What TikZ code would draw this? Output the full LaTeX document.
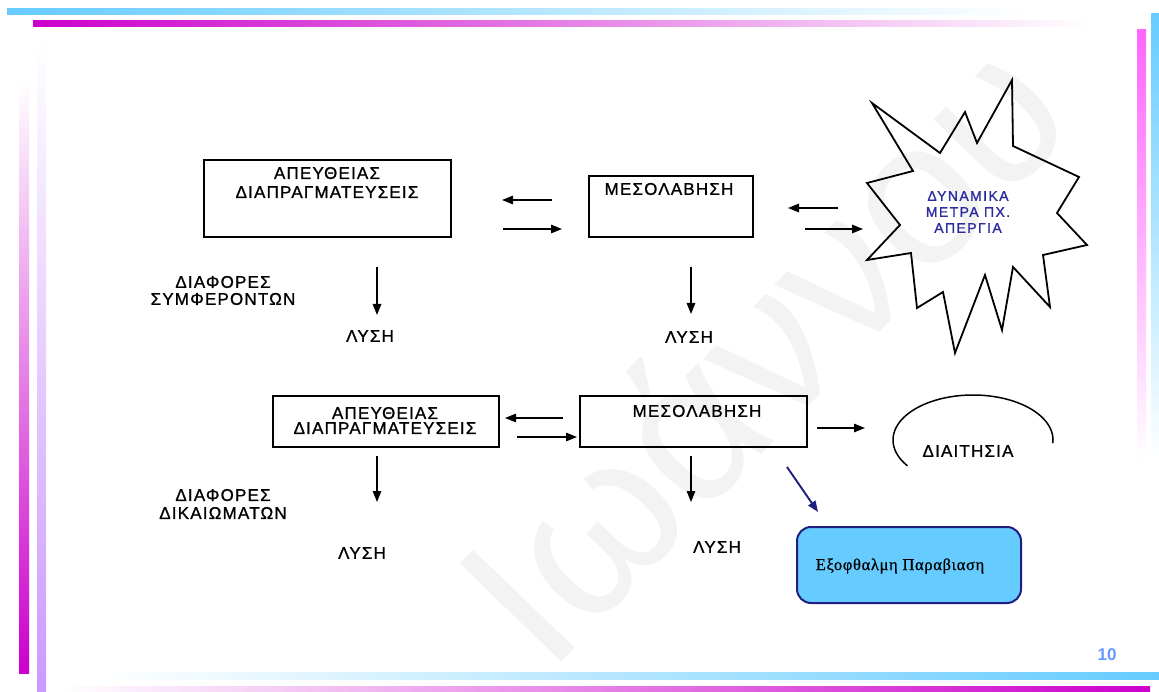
\documentclass[tikz,border=0pt]{standalone}
\usepackage{fontspec}
\setmainfont{Liberation Sans}
\newfontfamily\ar[LetterSpace=7,FakeBold=1]{Liberation Sans}
\newfontfamily\arst[LetterSpace=10,FakeBold=1]{Liberation Sans}
\newfontfamily\tm[LetterSpace=4,FakeBold=0.6]{Liberation Serif}
\newfontfamily\wm{Liberation Sans}
\usetikzlibrary{arrows.meta}
\definecolor{cyb}{HTML}{66CCFF}
\definecolor{mgb}{HTML}{CC00CC}
\definecolor{pkb}{HTML}{FF66FF}
\definecolor{lvb}{HTML}{CC99FF}
\definecolor{navyc}{HTML}{1F1F80}
\definecolor{stt}{HTML}{2B2B9E}
\definecolor{exf}{HTML}{66CCFF}
\definecolor{numc}{HTML}{6699FF}
\definecolor{wmc}{HTML}{F3F3F3}
\tikzset{
  bx/.style={draw, line width=1.6pt, inner sep=0pt},
  txt/.style={inner sep=0pt, align=center, font=\ar\fontsize{17}{19}\selectfont},
  arr/.style={line width=1.4pt, -{Triangle[length=11pt,width=8.5pt]}}
}
\begin{document}
\begin{tikzpicture}[x=1pt,y=-1pt]
\useasboundingbox (0,0) rectangle (1159,692);
\fill[white] (0,0) rectangle (1159,692);
% watermark
\node[rotate=46, anchor=base west, inner sep=0pt, text=wmc, font=\wm\fontsize{205}{220}\selectfont] (wmk) at (548,676) {Ιωάννου};
% decorative bars
\shade[left color=cyb, right color=white] (7,9) rectangle (1030,15);
\shade[left color=mgb, right color=white] (33,21) rectangle (1090,27);
\shade[top color=pkb, bottom color=white] (1137,30) rectangle (1146,460);
\shade[top color=cyb, bottom color=white] (1151,14) rectangle (1159,460);
\shade[top color=white, bottom color=mgb] (19,80) rectangle (29,673);
\shade[top color=white, bottom color=lvb] (37,40) rectangle (46,692);
\shade[left color=white, right color=cyb] (100,672) rectangle (1159,679);
\shade[left color=white, right color=mgb] (60,686) rectangle (1150,692);

% top row
\node[bx, minimum width=247pt, minimum height=77pt] (a1) at (327.5,198.5) {};
\node[txt] (a1t) at (327,182.5) {ΑΠΕΥΘΕΙΑΣ\\ΔΙΑΠΡΑΓΜΑΤΕΥΣΕΙΣ};
\node[bx, minimum width=164pt, minimum height=61pt] (m1) at (671,206.5) {};
\node[txt] (m1t) at (669,189) {ΜΕΣΟΛΑΒΗΣΗ};
\draw[line width=1.8pt, line join=miter] (872,103) -- (940,153) -- (965,112) -- (977,143) -- (1012,80) -- (1013,146) -- (1079,177) -- (1057,213) -- (1087,245) -- (1043,255) -- (1050,307) -- (1013,267) -- (1002,330) -- (985,275) -- (955,353) -- (943,292) -- (917,308) -- (911,253) -- (867,260) -- (900,225) -- (867,183) -- (913,171) -- cycle;
\node[txt, text=stt, font=\arst\fontsize{14}{16}\selectfont] (st) at (968,212) {ΔΥΝΑΜΙΚΑ\\ΜΕΤΡΑ ΠΧ.\\ΑΠΕΡΓΙΑ};
\node[txt, font=\ar\fontsize{17}{17}\selectfont] (dfs) at (223,290.5) {ΔΙΑΦΟΡΕΣ\\ΣΥΜΦΕΡΟΝΤΩΝ};
\node[txt] (l1) at (370,336) {ΛΥΣΗ};
\node[txt] (l2) at (689,337) {ΛΥΣΗ};

\coordinate (c1s) at (552,200); \coordinate (c1e) at (502,200);
\coordinate (c2s) at (503,229); \coordinate (c2e) at (562,229);
\coordinate (c3s) at (838,208); \coordinate (c3e) at (788,208);
\coordinate (c4s) at (805,229); \coordinate (c4e) at (863,229);
\coordinate (d1s) at (377,267); \coordinate (d1e) at (377,315);
\coordinate (d2s) at (691,267); \coordinate (d2e) at (691,314);
\draw[arr] (c1s) -- (c1e);
\draw[arr] (c2s) -- (c2e);
\draw[arr] (c3s) -- (c3e);
\draw[arr] (c4s) -- (c4e);
\draw[arr] (d1s) -- (d1e);
\draw[arr] (d2s) -- (d2e);

% bottom row
\node[bx, minimum width=226pt, minimum height=51pt] (a2) at (386,421.5) {};
\node[txt, font=\ar\fontsize{17}{15}\selectfont] (a2t) at (385,420.5) {ΑΠΕΥΘΕΙΑΣ\\ΔΙΑΠΡΑΓΜΑΤΕΥΣΕΙΣ};
\node[bx, minimum width=227pt, minimum height=51pt] (m2) at (693.5,421.5) {};
\node[txt] (m2t) at (697,411) {ΜΕΣΟΛΑΒΗΣΗ};
\draw[line width=1.5pt] plot[domain=4:-215, samples=90] ({973+80*cos(\x)}, {440+45*sin(\x)});
\node[txt] (di) at (968,451) {ΔΙΑΙΤΗΣΙΑ};
\node[txt, font=\ar\fontsize{17}{18}\selectfont] (dfd) at (223,504) {ΔΙΑΦΟΡΕΣ\\ΔΙΚΑΙΩΜΑΤΩΝ};
\node[txt] (l3) at (362,553) {ΛΥΣΗ};
\node[txt] (l4) at (717,547) {ΛΥΣΗ};
\node[draw=navyc, fill=exf, line width=2pt, rounded corners=14pt, minimum width=224pt, minimum height=76pt, inner sep=0pt] (ex) at (909,565) {};
\node[inner sep=0pt, anchor=base, font=\tm\fontsize{16.5}{18}\selectfont] (ext) at (900,570) {Εξοφθαλμη Παραβιαση};

\coordinate (e1s) at (563,418); \coordinate (e1e) at (505,418);
\coordinate (e2s) at (517,437); \coordinate (e2e) at (577,437);
\coordinate (e3s) at (817,428); \coordinate (e3e) at (865,428);
\coordinate (f1s) at (377,456); \coordinate (f1e) at (377,502);
\coordinate (f2s) at (691,456); \coordinate (f2e) at (691,502);
\coordinate (g1s) at (787,467); \coordinate (g1e) at (818,512);
\draw[arr] (e1s) -- (e1e);
\draw[arr] (e2s) -- (e2e);
\draw[arr] (e3s) -- (e3e);
\draw[arr] (f1s) -- (f1e);
\draw[arr] (f2s) -- (f2e);
\draw[arr, line width=1.9pt, draw=navyc, fill=navyc] (g1s) -- (g1e);

\node[inner sep=0pt, text=numc, font=\bfseries\fontsize{17}{19}\selectfont] (num) at (1107,655) {10};
\end{tikzpicture}
\end{document}
